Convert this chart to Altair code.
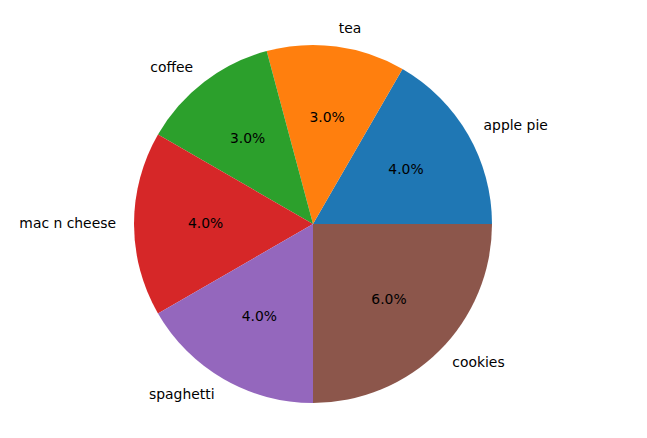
import math
import altair as alt
import pandas as pd

labels = ["apple pie", "tea", "coffee", "mac n cheese", "spaghetti", "cookies"]
values = [4, 3, 3, 4, 4, 6]
colors = ["#1f77b4", "#ff7f0e", "#2ca02c", "#d62728", "#9467bd", "#8c564b"]

df = pd.DataFrame({"label": labels, "value": values})

theta_scale = alt.Scale(domain=[0, 1], range=[math.pi / 2, math.pi / 2 - 2 * math.pi])

base = alt.Chart(df).transform_window(
    cum="sum(value)", frame=[None, 0]
).transform_joinaggregate(
    total="sum(value)"
).transform_calculate(
    start="(datum.cum - datum.value) / datum.total",
    end="datum.cum / datum.total",
).transform_calculate(
    mid="(datum.start + datum.end) / 2",
    pct="format(datum.value, '.1f') + '%'",
).transform_calculate(
    right="cos(datum.mid * 2 * PI) >= -1e-9"
)

arcs = base.mark_arc(radius=179, stroke=None).encode(
    theta=alt.Theta("start:Q", scale=theta_scale, stack=False),
    theta2="end:Q",
    color=alt.Color("label:N", scale=alt.Scale(domain=labels, range=colors), legend=None),
)

font = "DejaVu Sans"
fs = 13.9
lab_right = base.transform_filter("datum.right").mark_text(
    radius=197, align="left", baseline="middle", fontSize=fs, font=font, color="black"
).encode(theta=alt.Theta("mid:Q", scale=theta_scale, stack=False), text="label:N")

lab_left = base.transform_filter("!datum.right").mark_text(
    radius=197, align="right", baseline="middle", fontSize=fs, font=font, color="black"
).encode(theta=alt.Theta("mid:Q", scale=theta_scale, stack=False), text="label:N")

pcts = base.mark_text(
    radius=107.4, align="center", baseline="middle", fontSize=fs, font=font, color="black"
).encode(theta=alt.Theta("mid:Q", scale=theta_scale, stack=False), text="pct:N")

chart = alt.layer(arcs, lab_right, lab_left, pcts).properties(
    width=610, height=432, padding=0, autosize=alt.AutoSizeParams(type="none")
).configure_view(stroke=None)

chart.save("out.html", embed_options={"renderer": "svg", "actions": False})
